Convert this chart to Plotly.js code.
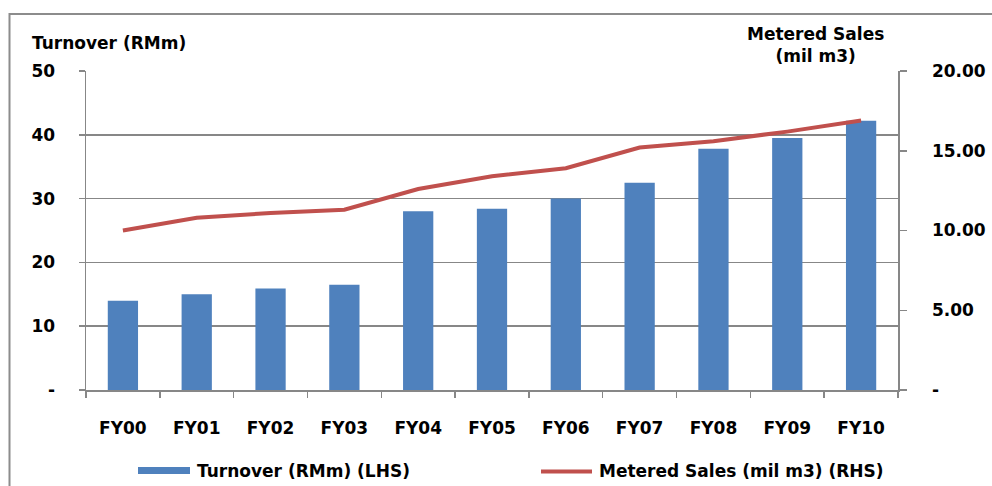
<!DOCTYPE html>
<html>
<head>
<meta charset="utf-8">
<script src="https://cdn.plot.ly/plotly-3.0.1.min.js"></script>
<style>html,body{margin:0;padding:0;background:#fff;}#chart{width:992px;height:486px;}</style>
</head>
<body>
<div id="chart"></div>
<script>
const categories = ["FY00","FY01","FY02","FY03","FY04","FY05","FY06","FY07","FY08","FY09","FY10"];
const turnover = [14.0, 15.0, 15.9, 16.5, 28.0, 28.4, 30.0, 32.5, 37.8, 39.5, 42.2];
const meteredSales = [10.0, 10.8, 11.1, 11.3, 12.6, 13.4, 13.9, 15.2, 15.6, 16.2, 16.9];
const leftTickVals = [0, 10, 20, 30, 40, 50];
const leftTickText = ["-", "10", "20", "30", "40", "50"];
const rightTickVals = [0, 5, 10, 15, 20];
const rightTickText = ["-", "5.00", "10.00", "15.00", "20.00"];
const barName = "Turnover (RMm) (LHS)";
const lineName = "Metered Sales (mil m3) (RHS)";

const FONT = "DejaVu Sans";
const fnt = {family: FONT, size: 17, color: "#000", weight: "bold"};
const GRID = "#878787";

const L = 86, R = 898, T = 71, B = 390;
const px = x => (x - L) / (R - L);
const py = y => (B - y) / (B - T);

const traces = [
  {type: "bar", x: categories, y: turnover, name: barName, marker: {color: "#4F81BD"}, yaxis: "y", showlegend: false},
  {type: "scatter", mode: "lines", x: categories, y: meteredSales, name: lineName, line: {color: "#C0504D", width: 4}, yaxis: "y2", showlegend: false}
];

const layout = {
  width: 992, height: 486,
  margin: {l: L, r: 992 - R, t: T, b: 486 - B},
  paper_bgcolor: "#fff", plot_bgcolor: "#fff",
  font: fnt,
  bargap: 0.59,
  showlegend: false,
  xaxis: {
    type: "category", showgrid: false, showline: true, linecolor: GRID, linewidth: 1.5,
    ticks: "outside", tickson: "boundaries", ticklen: 6, tickcolor: GRID, tickwidth: 1.5,
    ticklabelstandoff: 22, tickfont: fnt, zeroline: false, fixedrange: true
  },
  yaxis: {
    range: [0, 50], tickvals: leftTickVals, ticktext: leftTickText,
    showgrid: true, gridcolor: GRID, gridwidth: 1.5, zeroline: false,
    showline: true, linecolor: GRID, linewidth: 1.5,
    ticks: "outside", ticklen: 6, tickcolor: GRID, tickwidth: 1.5,
    ticklabelstandoff: 20, tickfont: fnt, fixedrange: true
  },
  yaxis2: {
    range: [0, 20], tickvals: rightTickVals, ticktext: rightTickText,
    overlaying: "y", side: "right", showgrid: false, zeroline: false,
    showline: true, linecolor: GRID, linewidth: 1.5,
    ticks: "outside", ticklen: 7, tickcolor: GRID, tickwidth: 1.5,
    ticklabelstandoff: 22, tickfont: fnt, fixedrange: true
  },
  shapes: [
    {type: "rect", xref: "paper", yref: "paper", x0: px(9.5), x1: px(1010), y0: py(500), y1: py(14), line: {color: "#8c8c8c", width: 2}, fillcolor: "rgba(0,0,0,0)", layer: "below"},
    {type: "rect", xref: "paper", yref: "paper", x0: px(138), x1: px(190), y0: py(474), y1: py(467), fillcolor: "#4F81BD", line: {width: 0}},
    {type: "line", xref: "paper", yref: "paper", x0: px(541), x1: px(592), y0: py(471.5), y1: py(471.5), line: {color: "#C0504D", width: 4}}
  ],
  annotations: [
    {xref: "paper", yref: "paper", x: px(30), y: py(43), xanchor: "left", yanchor: "middle", text: "Turnover (RMm)", showarrow: false, font: fnt},
    {xref: "paper", yref: "paper", x: px(815), y: py(45), xanchor: "center", yanchor: "middle", text: "Metered Sales<br>(mil m3)", showarrow: false, font: fnt},
    {xref: "paper", yref: "paper", x: px(195), y: py(471), xanchor: "left", yanchor: "middle", text: barName, showarrow: false, font: fnt},
    {xref: "paper", yref: "paper", x: px(597), y: py(471), xanchor: "left", yanchor: "middle", text: lineName, showarrow: false, font: fnt}
  ]
};

Plotly.newPlot("chart", traces, layout, {displayModeBar: false, staticPlot: true});
</script>
</body>
</html>
